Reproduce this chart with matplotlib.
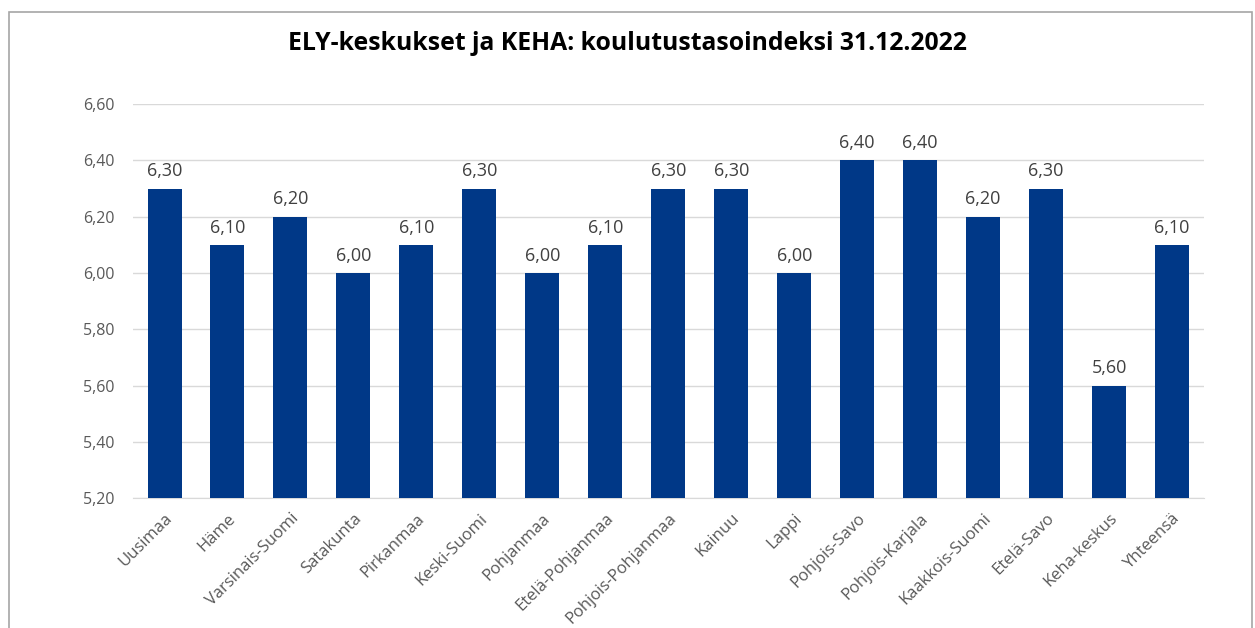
import matplotlib.pyplot as plt
from matplotlib.patches import Rectangle

alueet = ['Uusimaa', 'Häme', 'Varsinais-Suomi', 'Satakunta', 'Pirkanmaa',
          'Keski-Suomi', 'Pohjanmaa', 'Etelä-Pohjanmaa', 'Pohjois-Pohjanmaa',
          'Kainuu', 'Lappi', 'Pohjois-Savo', 'Pohjois-Karjala',
          'Kaakkois-Suomi', 'Etelä-Savo', 'Keha-keskus', 'Yhteensä']
indeksi = [6.30, 6.10, 6.20, 6.00, 6.10, 6.30, 6.00, 6.10, 6.30,
           6.30, 6.00, 6.40, 6.40, 6.20, 6.30, 5.60, 6.10]
y_ticks = [5.20, 5.40, 5.60, 5.80, 6.00, 6.20, 6.40, 6.60]

plt.rcParams['font.family'] = ['Open Sans', 'DejaVu Sans']

fig = plt.figure(figsize=(12.55, 6.28), dpi=100)
ax = fig.add_axes([0.106, 0.207, 0.853, 0.627])

# frame around the whole chart
fig.patches.append(Rectangle((0.0072, -0.1), 0.9905, 1.081, transform=fig.transFigure,
                             fill=False, edgecolor='#a6a6a6', linewidth=1.2))

x = range(len(alueet))
ax.bar(x, indeksi, width=0.54, color='#003887', zorder=3)
ax.set_ylim(5.20, 6.60)
ax.set_xlim(-0.5, len(alueet) - 0.5)
ax.set_yticks(y_ticks)
ax.set_yticklabels([f'{v:.2f}'.replace('.', ',') for v in y_ticks],
                   fontsize=11.5, color='#595959')
ax.yaxis.grid(True, color='#d9d9d9', linewidth=1, zorder=0)
ax.tick_params(axis='both', length=0)
ax.tick_params(axis='y', pad=13)
ax.tick_params(axis='x', pad=9)

ax.set_xticks(list(x))
ax.set_xticklabels(alueet, rotation=45, ha='right', rotation_mode='anchor',
                   fontsize=12, color='#595959')

for s in ['top', 'right', 'left']:
    ax.spines[s].set_visible(False)
ax.spines['bottom'].set_color('#d9d9d9')

for i, v in enumerate(indeksi):
    ax.annotate(f'{v:.2f}'.replace('.', ','), (i, v), xytext=(0, 6),
                textcoords='offset points', ha='center', va='bottom',
                fontsize=13, color='#404040')

fig.suptitle('ELY-keskukset ja KEHA: koulutustasoindeksi 31.12.2022',
             fontsize=17.8, fontweight='bold', y=0.95)

fig.savefig('out.png')
